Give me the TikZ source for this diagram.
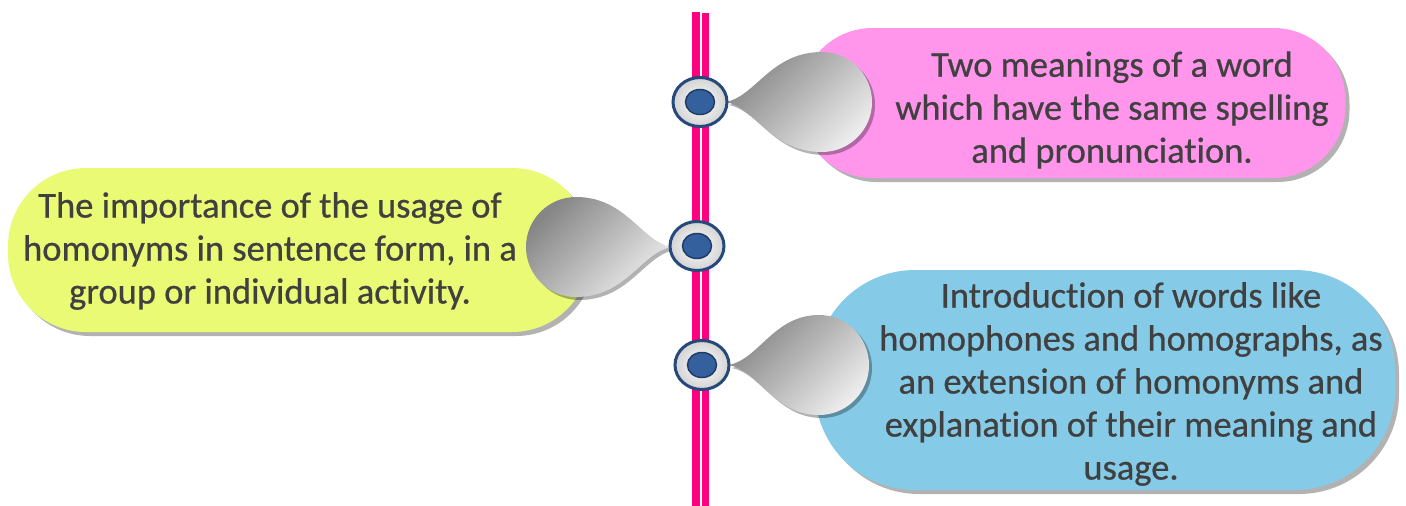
\documentclass[tikz,border=0pt]{standalone}
\usepackage{fontspec}
\setmainfont[Ligatures=NoCommon, FakeBold=0.6]{Carlito}
\usetikzlibrary{shadows,shapes.geometric}
\definecolor{linepink}{RGB}{255,0,128}
\definecolor{boxpink}{RGB}{255,150,236}
\definecolor{boxyellow}{RGB}{234,250,116}
\definecolor{boxblue}{RGB}{133,203,232}
\definecolor{ringblue}{RGB}{38,72,122}
\definecolor{dotblue}{RGB}{52,96,158}
\definecolor{txtc}{RGB}{64,64,64}
\tikzset{
  pill/.style={draw=none, inner sep=0pt,
    drop shadow={shadow xshift=4pt, shadow yshift=-4pt, opacity=0.3, fill=black}},
  txt/.style={align=center, text=txtc, inner sep=0pt, font=\fontsize{36.5}{43}\selectfont},
  ring/.style={ellipse, minimum width=54pt, minimum height=49pt, inner sep=0pt,
    draw=ringblue, line width=3pt, inner color=white, outer color=gray!35},
  dotc/.style={ellipse, minimum width=29pt, minimum height=25pt, inner sep=0pt,
    fill=dotblue, draw=ringblue!85!black, line width=1.5pt},
  drop/.style={shading=axis, top color=gray!95, bottom color=gray!15, shading angle=45,
    drop shadow={shadow xshift=3pt, shadow yshift=-3pt, opacity=0.3, fill=black}},
  rail/.style={linepink, line width=7.5pt}
}
\begin{document}
\begin{tikzpicture}[x=1pt,y=-1pt]
\useasboundingbox (0,0) rectangle (1406,506);
\fill[white] (0,0) rectangle (1406,506);
% timeline rails
\coordinate (r1top) at (696,12);
\coordinate (r1bot) at (696,506);
\coordinate (r2top) at (705.5,13);
\coordinate (r2bot) at (705.5,506);
\draw[rail] (r1top) -- (r1bot);
\draw[rail, line width=7pt] (r2top) -- (r2bot);
% boxes
\node[pill, fill=boxpink, minimum width=545pt, minimum height=150pt, rounded corners=72pt] (pinkbox) at (1073,103) {};
\node[pill, fill=boxyellow, minimum width=582pt, minimum height=164pt, rounded corners=78pt] (yellowbox) at (299,250) {};
\node[pill, fill=boxblue, minimum width=580pt, minimum height=220pt, rounded corners=100pt] (bluebox) at (1105,380) {};
% texts
\node[txt] (ttop) at (1112,110) {Two meanings of a word\\which have the same spelling\\and pronunciation.};
\node[txt] (tmid) at (270,251) {The importance of the usage of\\homonyms in sentence form, in a\\group or individual activity.};
\node[txt] (tbot) at (1131,384) {Introduction of words like\\homophones and homographs, as\\an extension of homonyms and\\explanation of their meaning and\\usage.};
% tips
\coordinate (p1) at (726,102);
\coordinate (p2) at (671,247);
\coordinate (p3) at (729,365);
% teardrops
\begin{scope}[shift={(p1)}]
\path[drop] (0,0) .. controls (30,-6) and (45,-50) .. (96,-50)
  arc[start angle=-90, end angle=90, radius=50]
  .. controls (45,50) and (30,6) .. (0,0) -- cycle;
\end{scope}
\begin{scope}[shift={(p2)}, xscale=-1]
\path[drop] (0,0) .. controls (30,-6) and (45,-50) .. (95,-50)
  arc[start angle=-90, end angle=90, radius=50]
  .. controls (45,50) and (30,6) .. (0,0) -- cycle;
\end{scope}
\begin{scope}[shift={(p3)}]
\path[drop] (0,0) .. controls (30,-6) and (45,-50) .. (90,-50)
  arc[start angle=-90, end angle=90, radius=50]
  .. controls (45,50) and (30,6) .. (0,0) -- cycle;
\end{scope}
% circles
\node[ring] (c1) at (700,102) {};
\node[dotc] (d1) at (c1.center) {};
\node[ring] (c2) at (697,246) {};
\node[dotc] (d2) at (c2.center) {};
\node[ring] (c3) at (702,365) {};
\node[dotc] (d3) at (c3.center) {};
\end{tikzpicture}
\end{document}
